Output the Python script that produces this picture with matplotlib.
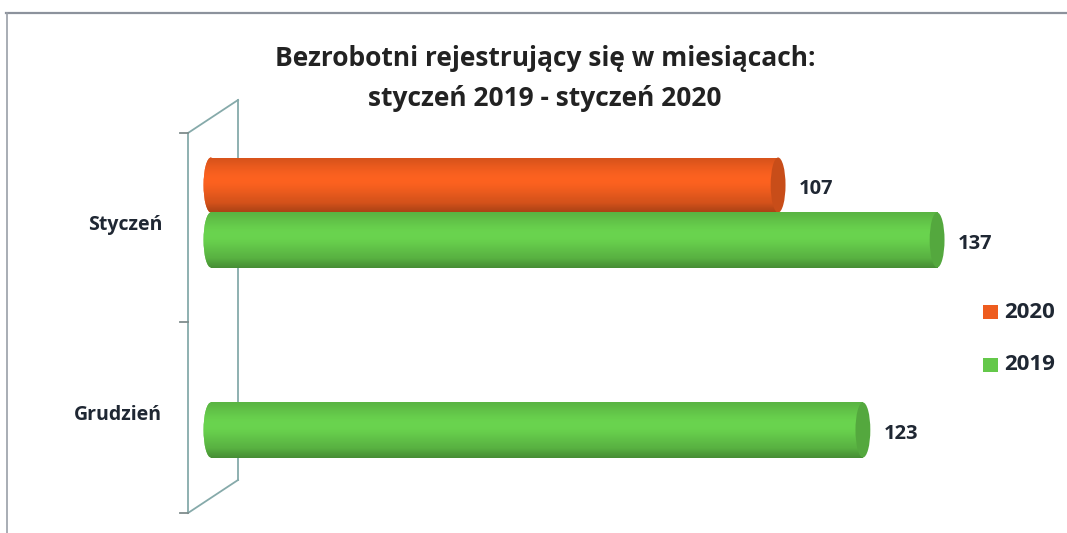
import numpy as np
import matplotlib
matplotlib.use("Agg")
import matplotlib.pyplot as plt
from matplotlib.patches import Ellipse, Rectangle
from matplotlib.lines import Line2D
from matplotlib.colors import to_rgb

plt.rcParams['font.family'] = ['Open Sans', 'DejaVu Sans']

# ---- data ----
categories = ["Styczeń", "Grudzień"]
series_names = ["2020", "2019"]
values_2020 = [107, None]
values_2019 = [137, 123]
title_lines = ["Bezrobotni rejestrujący się w miesiącach:", "styczeń 2019 - styczeń 2020"]

colors = {"2020": "#EE5C1E", "2019": "#64C84A"}
text_color = "#1F2733"

W, H = 1067, 533
fig = plt.figure(figsize=(W / 100, H / 100), dpi=100)
fig.patch.set_facecolor("white")

def fx(px):
    return px / W

def fy(py):
    return 1 - py / H

# outer frame (scan border)
fig.add_artist(Line2D([fx(6), fx(1067)], [fy(13), fy(13)], color="#8C929C", lw=1.6))
fig.add_artist(Line2D([fx(7), fx(7)], [fy(13), fy(533)], color="#9AA0A8", lw=1.2))

# 3D wall decoration
wall_c = "#86AAAA"
for (xa, ya, xb, yb) in [(188, 133, 188, 513), (238, 100, 238, 480),
                         (188, 133, 238, 100), (188, 513, 238, 480)]:
    fig.add_artist(Line2D([fx(xa), fx(xb)], [fy(ya), fy(yb)], color=wall_c, lw=1.3, zorder=0))
for ty in [133, 322, 513]:
    fig.add_artist(Line2D([fx(180), fx(188)], [fy(ty), fy(ty)], color="#7F8C8C", lw=1.3, zorder=0))

# axes for bars
xmin, xmax = -5, 150
px_per_unit = 5.30
ax_left = 211 + xmin * px_per_unit
ax_w = (xmax - xmin) * px_per_unit
ax = fig.add_axes([fx(ax_left), fy(513), ax_w / W, 380 / H])
ax.set_xlim(xmin, xmax)
ax.set_ylim(2, 0)
ax.axis("off")

cat_pos = np.arange(len(categories)) + 0.5
bar_h = 0.29
offsets = {"2020": -0.226, "2019": 0.063}
cap_w = 2.8


def shade(base, n=64):
    r, g, b = to_rgb(base)
    t = np.linspace(0, 1, n)
    prof = 0.84 + 0.22 * np.exp(-((t - 0.4) / 0.35) ** 2)
    prof = prof - 0.14 * (t > 0.82) * (t - 0.82) / 0.18
    arr = np.zeros((n, 1, 3))
    arr[:, 0, 0] = np.clip(r * prof, 0, 1)
    arr[:, 0, 1] = np.clip(g * prof, 0, 1)
    arr[:, 0, 2] = np.clip(b * prof, 0, 1)
    return arr


def cylinder(y, val, base, z):
    y0, y1 = y - bar_h / 2, y + bar_h / 2
    grad = shade(base)
    rect = ax.barh([y], [val], height=bar_h, left=0, color=base, zorder=z)[0]
    im = ax.imshow(grad, extent=(0, val, y1, y0), aspect="auto", zorder=z + 0.1,
                   interpolation="bilinear")
    im.set_clip_path(rect)
    le = Ellipse((0, y), cap_w, bar_h, facecolor=base, edgecolor="none", zorder=z)
    ax.add_patch(le)
    im2 = ax.imshow(grad, extent=(-cap_w, 0, y1, y0), aspect="auto", zorder=z + 0.1,
                    interpolation="bilinear")
    im2.set_clip_path(le)
    r, g, b = to_rgb(base)
    cap_col = (r * 0.84, g * 0.84, b * 0.84)
    re = Ellipse((val, y), cap_w, bar_h, facecolor=cap_col, edgecolor="none", zorder=z + 0.2)
    ax.add_patch(re)
    ax.set_xlim(xmin, xmax)
    ax.set_ylim(2, 0)


z = 2
for i, c in enumerate(categories):
    for name, vals in [("2020", values_2020), ("2019", values_2019)]:
        v = vals[i]
        if v is None:
            continue
        y = cat_pos[i] + offsets[name]
        cylinder(y, v, colors[name], z)
        z += 1
        ax.text(v + cap_w / 2 + 2.5, y + 0.02, str(v), ha="left", va="center",
                fontsize=14.5, fontweight="bold", color=text_color)

# category labels
for i, c in enumerate(categories):
    ax.text(xmin - 4.2, cat_pos[i] - 0.015, c, ha="right", va="center", fontsize=14,
            fontweight="bold", color=text_color, clip_on=False)

# title
fig.text(fx(545), fy(58), title_lines[0], ha="center", va="center", fontsize=19,
         fontweight="bold", color="#222222")
fig.text(fx(545), fy(98), title_lines[1], ha="center", va="center", fontsize=19,
         fontweight="bold", color="#222222")

# legend
for name, ly in [("2020", 312), ("2019", 365)]:
    fig.add_artist(Rectangle((fx(983), fy(ly + 7)), 15 / W, 14 / H, transform=fig.transFigure,
                             facecolor=colors[name], edgecolor="none"))
    fig.text(fx(1004), fy(ly), name, ha="left", va="center", fontsize=16,
             fontweight="bold", color=text_color)

fig.savefig("out.png", dpi=100)
